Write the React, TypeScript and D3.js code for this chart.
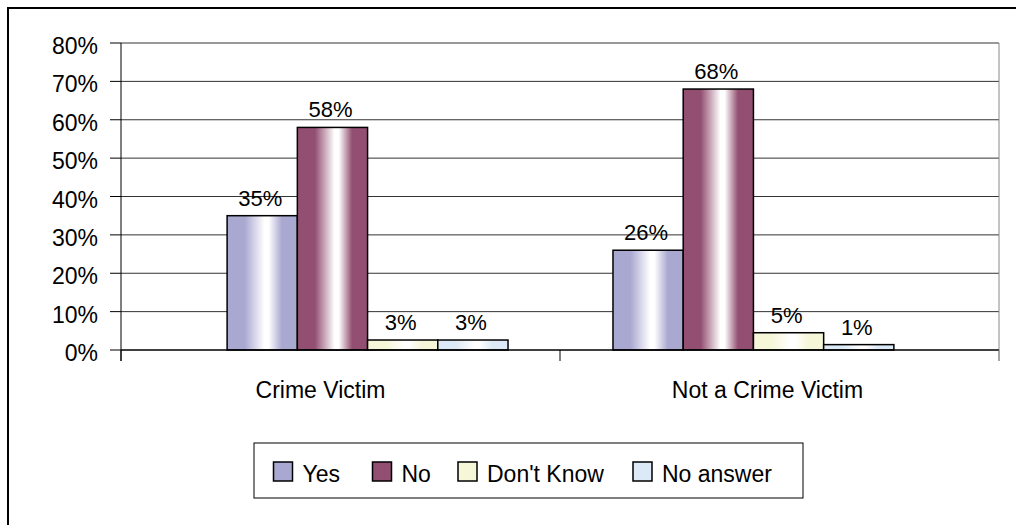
import React from "react";
import * as d3 from "d3";

const categories = ["Crime Victim", "Not a Crime Victim"];
const seriesNames = ["Yes", "No", "Don't Know", "No answer"];
const seriesColors = ["#A9A8D0", "#934F71", "#F6F6D8", "#DCE9F6"];
const yesValues = [35, 26];
const noValues = [58, 68];
const dontKnowValues = [2.6, 4.5];
const noAnswerValues = [2.6, 1.4];
const yTicks = [0, 10, 20, 30, 40, 50, 60, 70, 80];

const W = 1016;
const H = 525;
const FONT = "'Liberation Sans', Arial, sans-serif";

export default function App() {
  const values = [yesValues, noValues, dontKnowValues, noAnswerValues];
  const plotL = 121, plotR = 999, plotT = 43, plotB = 350;
  const y = d3.scaleLinear().domain([0, 80]).range([plotB, plotT]);
  const x0 = d3.scaleBand<string>().domain(categories).range([plotL, plotR + 1]).paddingInner(0.272).paddingOuter(0.275);
  const x1 = d3.scaleBand<string>().domain(seriesNames).range([0, x0.bandwidth()]);
  const catBand = d3.scaleBand<string>().domain(categories).range([plotL, plotR]);
  const catTicks = [plotL, ...categories.map((c) => (catBand(c) as number) + catBand.bandwidth())];
  const labelShift = [-20, -12];

  return (
    <svg width={W} height={H} style={{ position: "absolute", left: 0, top: 0, background: "#fff" }} fontFamily={FONT}>
      <defs>
        {seriesColors.map((c, i) => (
          <linearGradient key={i} id={`g${i}`} x1="0" x2="1" y1="0" y2="0">
            <stop offset="0" stopColor={c} />
            <stop offset="0.25" stopColor={c} />
            <stop offset="0.53" stopColor="#ffffff" />
            <stop offset="0.59" stopColor="#ffffff" />
            <stop offset="0.78" stopColor={c} />
            <stop offset="1" stopColor={c} />
          </linearGradient>
        ))}
      </defs>
      <rect x={8} y={8} width={1030} height={540} fill="none" stroke="#000" strokeWidth={2} />
      {/* gridlines */}
      {yTicks.filter((t) => t > 0).map((t) => (
        <line key={t} x1={plotL} x2={plotR} y1={y(t)} y2={y(t)} stroke="#333" strokeWidth={1} />
      ))}
      {/* right border */}
      <line x1={plotR} x2={plotR} y1={plotT} y2={plotB + 11} stroke="#888" strokeWidth={1} />
      {/* y axis */}
      <line x1={plotL} x2={plotL} y1={plotT} y2={plotB + 11} stroke="#000" strokeWidth={1} />
      {yTicks.map((t) => (
        <g key={t}>
          <line x1={plotL - 11} x2={plotL} y1={y(t)} y2={y(t)} stroke="#000" strokeWidth={1} />
          <text x={98} y={y(t) + 3} dy="0.35em" textAnchor="end" fontSize={23} fill="#000">{`${t}%`}</text>
        </g>
      ))}
      {/* bars */}
      {categories.map((c, ci) => (
        <g key={c}>
          {seriesNames.map((s, si) => {
            const v = values[si][ci];
            const bx = (x0(c) as number) + (x1(s) as number);
            const bw = x1.bandwidth();
            return (
              <g key={s}>
                <rect x={bx} y={y(v)} width={bw} height={plotB - y(v)} fill={`url(#g${si})`} stroke="#000" strokeWidth={1.5} />
                <text x={bx + bw / 2 - 2} y={y(v) - 10} textAnchor="middle" fontSize={22} fill="#000">{`${Math.round(v)}%`}</text>
              </g>
            );
          })}
        </g>
      ))}
      {/* x axis */}
      <line x1={plotL} x2={plotR} y1={plotB} y2={plotB} stroke="#000" strokeWidth={1.5} />
      {catTicks.map((t, i) => (
        <line key={i} x1={t} x2={t} y1={plotB} y2={plotB + 11} stroke={i === 2 ? "#888" : "#000"} strokeWidth={1} />
      ))}
      {categories.map((c, i) => (
        <text key={c} x={(catBand(c) as number) + catBand.bandwidth() / 2 + labelShift[i]} y={398} textAnchor="middle" fontSize={23} fill="#000">{c}</text>
      ))}
      {/* legend */}
      <rect x={254} y={443} width={549} height={55} fill="#fff" stroke="#000" strokeWidth={1} />
      {seriesNames.map((s, i) => {
        const sx = [273.5, 372.5, 458, 633][i];
        return (
          <g key={s}>
            <rect x={sx} y={462} width={19} height={19} fill={seriesColors[i]} stroke="#000" strokeWidth={1.5} />
            <text x={sx + 29} y={482} fontSize={23} fill="#000">{s}</text>
          </g>
        );
      })}
    </svg>
  );
}
